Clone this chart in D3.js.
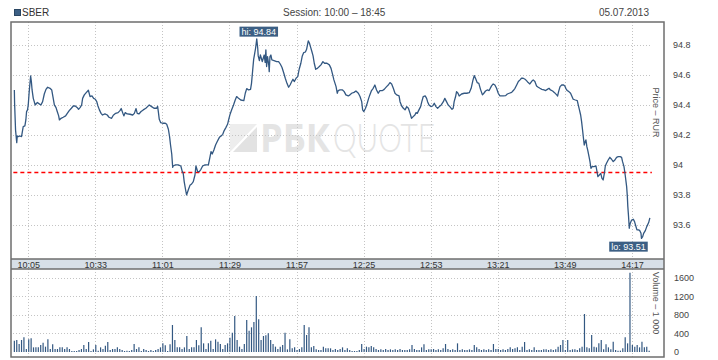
<!DOCTYPE html>
<html><head><meta charset="utf-8">
<script src="https://cdn.jsdelivr.net/npm/d3@7"></script>
<style>
body{margin:0;background:#fff;}
svg{display:block;font-family:"Liberation Sans",Arial,sans-serif;}
</style></head><body>
<svg id="c" width="718" height="360"></svg>
<script>
// ---------- data ----------
const ticker = "SBER";
const sessionText = "Session: 10:00 \u2013 18:45";
const dateText = "05.07.2013";
const timeTickLabels = ["10:05","10:33","11:01","11:29","11:57","12:25","12:53","13:21","13:49","14:17"];
const priceTicks = [93.6, 93.8, 94, 94.2, 94.4, 94.6, 94.8];
const volumeTicks = [0, 400, 800, 1200, 1600];
const prevClose = 93.95;
const hiValue = 94.84;
const loValue = 93.51;
const priceAxisTitle = "Price \u2013 RUR";
const volumeAxisTitle = "Volume \u2013 1 000";
// [minutes after 10:00, price]
const priceSeries = [
[-0.8,94.500],[-0.7,94.411],[-0.3,94.233],[0.2,94.149],[0.4,94.193],[0.8,94.189],[1.5,94.193],[2.2,94.189],[2.9,94.256],[3.6,94.260],
[4.0,94.300],[4.3,94.356],[4.7,94.367],[5.0,94.400],[5.4,94.489],[6.0,94.593],[6.3,94.556],[6.6,94.500],[7.1,94.444],[7.5,94.422],
[7.9,94.400],[8.8,94.416],[9.6,94.407],[10.3,94.400],[11.0,94.422],[11.7,94.473],[12.4,94.504],[13.1,94.518],[14.1,94.511],[14.8,94.500],
[15.3,94.456],[15.9,94.400],[16.6,94.382],[17.1,94.356],[17.7,94.327],[18.0,94.300],[18.7,94.311],[19.6,94.318],[20.6,94.327],[21.3,94.344],
[22.1,94.362],[23.0,94.378],[23.8,94.393],[24.6,94.393],[25.5,94.382],[26.0,94.371],[26.7,94.384],[27.3,94.400],[27.7,94.444],[28.4,94.467],
[29.2,94.482],[30.1,94.498],[30.8,94.456],[31.6,94.460],[32.3,94.444],[33.0,94.438],[33.6,94.422],[34.1,94.393],[34.7,94.367],[35.4,94.344],
[36.0,94.333],[37.0,94.340],[38.0,94.333],[38.7,94.318],[39.8,94.311],[40.5,94.331],[41.5,94.344],[42.5,94.349],[43.3,94.362],[43.8,94.376],
[44.4,94.349],[44.9,94.327],[45.5,94.349],[46.3,94.340],[47.5,94.338],[48.6,94.333],[49.3,94.344],[50.0,94.376],[50.5,94.344],[51.2,94.340],
[52.1,94.356],[53.0,94.367],[54.1,94.378],[54.8,94.389],[55.5,94.400],[56.5,94.389],[57.5,94.378],[58.6,94.378],[59.0,94.391],[59.3,94.356],
[59.7,94.304],[60.3,94.282],[61.1,94.278],[62.2,94.278],[62.8,94.271],[63.5,94.238],[64.0,94.189],[64.4,94.133],[64.9,94.073],
[65.3,93.984],[65.5,93.993],[66.3,94.000],[67.6,94.000],[68.7,93.993],[69.3,93.956],[69.7,93.944],[70.1,93.889],[70.7,93.833],[71.1,93.800],
[71.8,93.833],[72.5,93.864],[73.2,93.873],[73.9,93.889],[74.6,93.933],[75.0,93.993],[75.7,93.956],[76.4,93.956],[77.1,93.971],[77.8,93.993],
[78.8,94.000],[80.2,94.000],[80.9,94.056],[81.3,94.089],[81.8,94.073],[82.5,94.100],[83.2,94.133],[83.9,94.156],[84.8,94.184],[85.5,94.193],
[86.2,94.204],[86.8,94.229],[87.5,94.249],[88.2,94.271],[88.8,94.311],[89.3,94.340],[90.0,94.371],[90.7,94.400],[91.4,94.433],[92.0,94.456],
[92.8,94.444],[93.7,94.433],[95.0,94.429],[95.6,94.478],[96.2,94.509],[97.0,94.500],[97.8,94.504],[98.2,94.544],[98.7,94.633],[99.1,94.704],
[99.5,94.740],[99.9,94.778],[100.4,94.840],[100.8,94.778],[101.0,94.727],[101.5,94.696],[101.9,94.733],[102.3,94.711],[102.7,94.689],[103.1,94.711],
[103.5,94.733],[103.9,94.684],[104.2,94.767],[104.5,94.656],[104.9,94.722],[105.4,94.667],[105.6,94.622],[105.9,94.722],[106.3,94.733],[106.7,94.700],
[107.6,94.696],[108.7,94.689],[109.5,94.689],[110.2,94.673],[110.9,94.651],[111.6,94.616],[112.3,94.578],[113.0,94.544],[113.7,94.518],[114.3,94.533],
[115.0,94.556],[115.5,94.571],[116.1,94.556],[116.8,94.578],[117.5,94.589],[118.1,94.638],[118.8,94.678],[119.4,94.727],[120.0,94.749],[120.7,94.753],
[121.2,94.771],[121.9,94.827],[122.4,94.811],[122.9,94.784],[123.4,94.756],[123.9,94.727],[124.4,94.678],[125.0,94.638],[125.7,94.644],[126.5,94.656],
[127.2,94.667],[128.0,94.689],[128.7,94.678],[129.7,94.678],[130.7,94.667],
[131.4,94.644],[132.1,94.600],[132.6,94.567],[133.5,94.522],[134.0,94.478],[134.4,94.496],[135.1,94.500],[136.2,94.500],[136.9,94.489],[137.6,94.467],
[138.6,94.460],[139.3,94.467],[140.0,94.478],[141.0,94.484],[141.8,94.493],[142.8,94.478],[143.5,94.456],[144.2,94.422],[144.6,94.367],[145.1,94.356],
[145.8,94.378],[146.5,94.411],[147.1,94.444],[147.6,94.467],[148.3,94.496],[149.0,94.511],[149.7,94.533],[150.4,94.500],[151.1,94.478],[151.8,94.496],
[152.9,94.496],[153.6,94.504],[154.6,94.522],[155.3,94.533],[156.0,94.549],[156.7,94.540],[157.4,94.511],[158.1,94.478],[158.8,94.467],[159.8,94.460],
[160.2,94.422],[160.9,94.393],[161.6,94.378],[162.3,94.367],[163.0,94.389],[163.7,94.378],[164.4,94.344],[165.0,94.311],[165.7,94.322],[166.4,94.333],
[166.9,94.349],[167.4,94.344],[168.1,94.367],[168.8,94.389],[169.3,94.422],[169.9,94.456],[170.7,94.460],[171.3,94.444],[171.7,94.422],[172.3,94.400],
[173.1,94.389],[173.8,94.393],[174.5,94.411],[175.2,94.389],[175.9,94.378],[176.6,94.389],[177.4,94.400],[178.3,94.422],[178.9,94.444],[179.6,94.422],
[180.3,94.400],[181.0,94.389],[181.9,94.371],[182.4,94.378],[182.8,94.422],[183.4,94.456],[183.8,94.489],[184.4,94.478],[184.9,94.460],[185.9,94.473],
[187.0,94.478],[188.1,94.478],[189.1,94.482],[189.9,94.511],[190.6,94.562],[191.2,94.596],[191.7,94.578],[192.4,94.549],[193.1,94.544],[193.8,94.504],
[194.6,94.467],[195.2,94.478],[195.9,94.493],[196.6,94.500],[197.4,94.496],
[198.4,94.527],[199.1,94.540],[199.8,94.533],[200.5,94.511],[201.2,94.478],[201.9,94.460],[203.3,94.460],[204.3,94.462],[205.0,94.473],[205.8,94.478],
[206.8,94.484],[207.5,94.496],[208.2,94.511],[208.9,94.533],[209.6,94.556],[210.3,94.567],[210.9,94.578],[211.6,94.578],[212.4,94.571],[213.0,94.562],
[213.7,94.549],[214.4,94.540],[215.1,94.556],[215.8,94.567],[216.5,94.556],[217.2,94.527],[217.9,94.518],[218.6,94.511],[219.4,94.504],[220.3,94.500],
[221.0,94.496],[221.7,94.504],[222.4,94.511],[223.0,94.500],[223.9,94.493],[224.7,94.482],[225.6,94.467],[226.0,94.460],[226.4,94.489],[227.0,94.522],
[227.7,94.533],[228.5,94.533],[229.0,94.527],[229.4,94.511],[230.0,94.496],[230.7,94.489],[231.4,94.478],[231.9,94.460],[232.5,94.438],[233.4,94.433],
[234.2,94.429],[234.6,94.400],[235.1,94.367],[235.6,94.333],[236.0,94.289],[236.4,94.233],[236.7,94.189],[237.1,94.133],[237.5,94.156],[237.8,94.167],
[238.2,94.122],[238.6,94.096],[239.1,94.056],[239.5,94.022],[239.9,93.978],[240.4,93.989],[241.1,93.989],[242.0,93.993],[242.3,93.967],[242.8,93.922],
[243.4,93.933],[244.0,93.944],[244.5,93.911],[245.0,93.900],[245.5,93.944],[245.9,93.993],[246.4,94.011],[247.1,94.033],[247.8,94.051],[248.5,94.038],
[249.2,94.022],[249.9,94.033],[250.6,94.051],[251.3,94.056],[252.1,94.056],[252.7,94.051],[253.1,94.022],[253.7,93.989],[254.2,93.933],[254.8,93.856],
[255.1,93.789],[255.3,93.722],[255.6,93.656],[255.9,93.578],[256.3,93.611],[256.9,93.633],[257.6,93.638],[258.1,93.622],[258.5,93.600],[259.1,93.567],
[259.8,93.567],[260.3,93.562],[260.8,93.544],[261.0,93.510],[261.5,93.522],[261.9,93.544],[262.6,93.562],[263.2,93.589],[264.0,93.616],[264.5,93.647]
];
// one bar per minute, thousands of shares
const volumeStartMinute = -0.8;
const volumeValues = [
243,258,172,258,315,64,272,294,100,100, 100,150,200,115,272,64,165,64,64,100,
100,64,100,64,21,21,21,43,64,150, 64,215,21,57,150,29,100,64,136,215,
43,64,64,100,64,43,21,29,21,43, 172,64,100,21,64,43,21,43,21,43,
64,100,186,143,21,165,580,258,100,100, 64,100,344,64,100,100,258,143,530,186,
64,186,243,64,272,222,172,64,150,186, 308,415,773,258,115,64,172,687,458,530,
644,1203,702,258,344,358,401,258,172,115, 64,115,150,415,57,272,79,100,43,64,
100,580,365,530,100,130,57,43,43,115, 79,79,79,43,64,43,64,100,43,79,
43,21,21,21,43,172,64,115,100,129, 100,64,43,57,43,64,43,57,43,57,
43,64,43,43,43,57,150,64,43,43, 100,165,43,57,57,64,43,57,43,79,
172,64,43,57,43,186,43,57,43,43, 57,43,150,100,64,43,57,43,57,43,
172,64,64,43,57,43,64,100,64,79, 100,43,115,215,43,57,43,100,43,43,
43,57,57,43,57,43,57,115,150,258, 43,258,43,57,57,43,79,115,816,100,
79,365,115,100,186,258,57,165,100,57, 222,43,29,29,79,315,186,1704,150,115,
150,100,222,100,115,29
];

// ---------- layout ----------
const L = 11, R = 664, T = 22, PB = 259, BB = 269, VB = 357;
const gridL = 13, gridR = 650;
const lineColor = "#335882";
const gridColor = "#c4c4c4";

const toMin = s => { const [h, m] = s.split(":").map(Number); return (h - 10) * 60 + m; };

const x = d3.scaleLinear().domain([-2.2, 270.4]).range([L, R]);
const y = d3.scaleLinear().domain([93.373, 94.953]).range([PB, T]);
const yv = d3.scaleLinear().domain([0, 1600]).range([352, 277.5]);

const svg = d3.select("#c");

// header
svg.append("rect").attr("x", 14.5).attr("y", 9.5).attr("width", 6).attr("height", 6)
  .attr("fill", "#3c5f84").attr("stroke", "#2a4663");
svg.append("text").attr("x", 22).attr("y", 16).attr("font-size", 10).attr("fill", "#333").text(ticker);
svg.append("text").attr("x", 283).attr("y", 16).attr("font-size", 10).attr("fill", "#444").text(sessionText);
svg.append("text").attr("x", 649).attr("y", 16).attr("font-size", 10).attr("fill", "#444")
  .attr("text-anchor", "end").text(dateText);

// time band
svg.append("rect").attr("x", L).attr("y", PB).attr("width", R - L).attr("height", BB - PB).attr("fill", "#d7dfe7");

// watermark
const wm = svg.append("g");
wm.append("path").attr("d", "M230,152 L230,124 L257,124 Z").attr("fill", "#ededed");
wm.append("path").attr("d", "M233,152 L257,127 L257,152 Z").attr("fill", "#e2e2e2");
wm.append("text").attr("x", 260).attr("y", 152).attr("font-size", 40).attr("font-weight", 700)
  .attr("textLength", 70).attr("lengthAdjust", "spacingAndGlyphs")
  .attr("font-family", "'Open Sans','DejaVu Sans',sans-serif").attr("fill", "#e4e4e4").text("РБК");
wm.append("text").attr("x", 333).attr("y", 152).attr("font-size", 40).attr("font-weight", 300)
  .attr("textLength", 102).attr("lengthAdjust", "spacingAndGlyphs")
  .attr("font-family", "Lato,'Open Sans',sans-serif").attr("fill", "#e4e4e4").text("QUOTE");

// grid
const tickMins = timeTickLabels.map(toMin);
const grid = svg.append("g").attr("stroke", gridColor).attr("stroke-dasharray", "1,2").attr("stroke-width", 1);
grid.selectAll(".hp").data(priceTicks).join("line")
  .attr("x1", gridL).attr("x2", gridR).attr("y1", d => Math.round(y(d)) + 0.5).attr("y2", d => Math.round(y(d)) + 0.5);
grid.selectAll(".hv").data(volumeTicks.slice(1)).join("line")
  .attr("x1", gridL).attr("x2", gridR).attr("y1", d => Math.round(yv(d)) + 0.5).attr("y2", d => Math.round(yv(d)) + 0.5);
grid.selectAll(".vp").data(tickMins).join("line")
  .attr("x1", d => Math.round(x(d)) + 0.5).attr("x2", d => Math.round(x(d)) + 0.5).attr("y1", T).attr("y2", PB);
grid.selectAll(".vv").data(tickMins).join("line")
  .attr("x1", d => Math.round(x(d)) + 0.5).attr("x2", d => Math.round(x(d)) + 0.5).attr("y1", BB).attr("y2", VB);

// volume bars
svg.append("g").selectAll("line").data(volumeValues).join("line")
  .attr("x1", (d, i) => x(volumeStartMinute + i)).attr("x2", (d, i) => x(volumeStartMinute + i))
  .attr("y1", yv(0)).attr("y2", d => yv(d))
  .attr("stroke", lineColor).attr("stroke-width", 1.2);

// prev close line
const tFirst = priceSeries[0][0], tLast = priceSeries[priceSeries.length - 1][0];
svg.append("line").attr("x1", x(tFirst) - 1).attr("x2", x(tLast) + 2)
  .attr("y1", y(prevClose)).attr("y2", y(prevClose))
  .attr("stroke", "#ff0000").attr("stroke-width", 1.4).attr("stroke-dasharray", "4,3");

// price line
svg.append("path").datum(priceSeries)
  .attr("d", d3.line().x(d => x(d[0])).y(d => y(d[1])))
  .attr("fill", "none").attr("stroke", lineColor).attr("stroke-width", 1.3).attr("stroke-linejoin", "round");

// hi / lo labels
function tag(cx, topY, text) {
  const g = svg.append("g");
  const t = g.append("text").attr("x", cx).attr("y", topY + 8.3).attr("font-size", 9)
    .attr("fill", "#fff").attr("text-anchor", "middle").text(text);
  const w = t.node().getComputedTextLength() + 4;
  g.insert("rect", "text").attr("x", cx - w / 2).attr("y", topY).attr("width", w).attr("height", 10).attr("fill", "#3c5f84");
}
const hiPt = priceSeries.find(d => d[1] === hiValue);
const loPt = priceSeries.find(d => d[1] === loValue);
tag(x(hiPt[0]) + 2, y(hiValue) - 12.3, "hi: " + hiValue.toFixed(2));
tag(x(loPt[0]) - 13, y(loValue) + 3.2, "lo: " + loValue.toFixed(2));

// frame
const fr = svg.append("g").attr("fill", "none").attr("stroke", "#6e6e6e").attr("stroke-width", 1.5);
fr.append("rect").attr("x", L).attr("y", T).attr("width", R - L).attr("height", VB - T);
fr.append("line").attr("x1", L).attr("x2", R).attr("y1", PB).attr("y2", PB);
fr.append("line").attr("x1", L).attr("x2", R).attr("y1", BB).attr("y2", BB);

// axes
const fmt = d => String(+d.toFixed(2));
const ya = svg.append("g").attr("transform", "translate(673,0)")
  .call(d3.axisRight(y).tickValues(priceTicks).tickSize(0).tickPadding(0).tickFormat(fmt));
const va = svg.append("g").attr("transform", "translate(674,0)")
  .call(d3.axisRight(yv).tickValues(volumeTicks).tickSize(0).tickPadding(0).tickFormat(fmt));
const xa = svg.append("g").attr("transform", "translate(0,267.5)")
  .call(d3.axisTop(x).tickValues(tickMins).tickSize(0).tickPadding(0).tickFormat((d, i) => timeTickLabels[i]));
[ya, va, xa].forEach(a => {
  a.select(".domain").remove();
  a.selectAll("text").attr("font-size", 9).attr("font-family", "'Liberation Sans',Arial,sans-serif").attr("fill", "#444");
});
xa.selectAll("text").attr("fill", "#333");

// axis titles
svg.append("text").attr("transform", "translate(653,112.5) rotate(90)")
  .attr("text-anchor", "middle").attr("font-size", 9).attr("fill", "#555").text(priceAxisTitle);
svg.append("text").attr("transform", "translate(653,303) rotate(90)")
  .attr("text-anchor", "middle").attr("font-size", 9).attr("fill", "#555").text(volumeAxisTitle);
</script>
</body></html>
